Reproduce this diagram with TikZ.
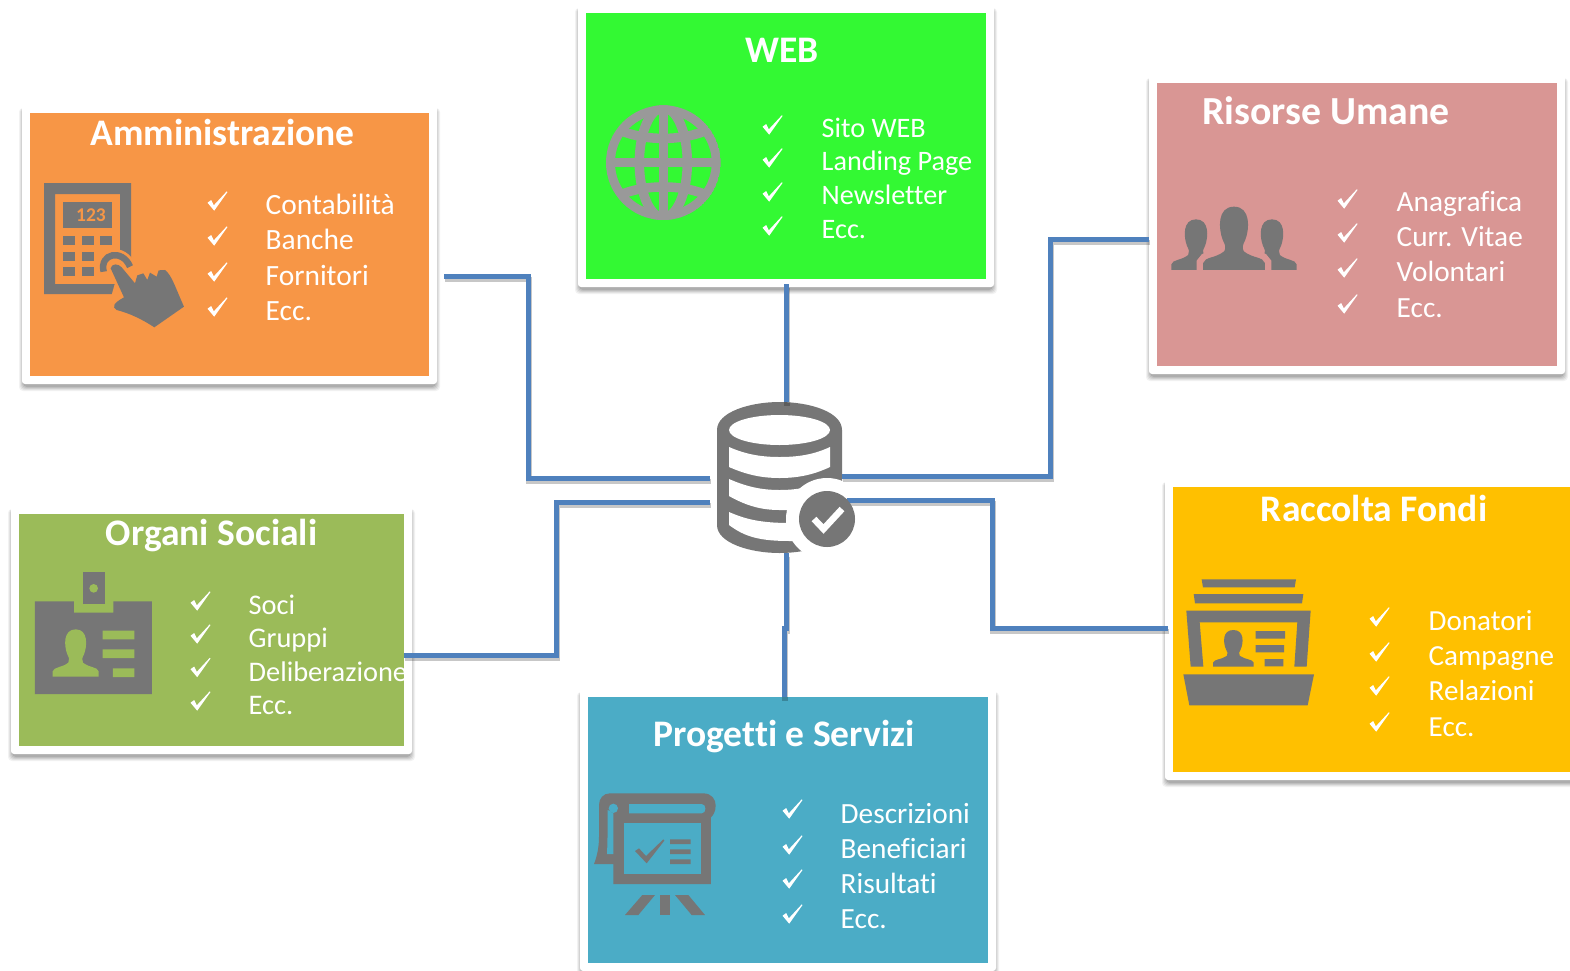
\documentclass[tikz,border=0pt]{standalone}
\usepackage{fontspec}
\setmainfont[Ligatures=NoCommon]{Carlito}
\definecolor{icongrey}{HTML}{767676}
\definecolor{globegrey}{HTML}{999999}
\definecolor{cOrange}{HTML}{F79646}
\definecolor{cGreen}{HTML}{33F933}
\definecolor{cPink}{HTML}{D99694}
\definecolor{cOlive}{HTML}{9BBB59}
\definecolor{cTeal}{HTML}{4BACC6}
\definecolor{cGold}{HTML}{FFC000}
\definecolor{cLine}{HTML}{4F81BD}
\def\tsz{37.5}
\def\isz{29.3}
\tikzset{
  cardback/.style={draw=none,fill=white,rounded corners=3pt,inner sep=0pt,outer sep=0pt},
  cardfill/.style={draw=none,inner sep=0pt,outer sep=0pt},
  cardtitle/.style={text=white,font=\fontsize{\tsz}{\tsz}\selectfont\bfseries,anchor=base,inner sep=0pt},
  carditem/.style={text=white,font=\fontsize{\isz}{\isz}\selectfont,anchor=base west,inner sep=0pt},
  linkline/.style={cLine,line width=5pt,line join=miter},
  linkshade/.style={black,opacity=.22,line width=5.5pt,transform canvas={xshift=1pt,yshift=-3.5pt}},
}
% \card{name}{x0}{y0}{x1}{y1}{colour}: coloured area; white frame 8 px round it
\newcommand{\card}[6]{%
  \pgfmathsetmacro{\cx}{(#2+#4)/2}\pgfmathsetmacro{\cy}{(#3+#5)/2}%
  \pgfmathsetmacro{\cw}{#4-#2}\pgfmathsetmacro{\ch}{#5-#3}%
  \foreach \k/\op in {0/.05,1/.06,2/.07,3/.08,4/.10}{%
    \fill[black,opacity=\op,rounded corners=4pt]
      (#2-8-3+\k,#3-8+3) rectangle (#4+8+3-\k,#5+8+7-\k);}%
  \node[cardback,minimum width=\cw pt+16pt,minimum height=\ch pt+16pt] (#1back) at (\cx,\cy) {};%
  \node[cardfill,fill=#6,minimum width=\cw pt,minimum height=\ch pt] (#1) at (\cx,\cy) {};%
}
\newcommand{\tick}[2]{%
  \fill[white,shift={(#1,#2)}] (-10,1.7) -- (-6.3,-1) -- (-3.7,4.3) -- (9.3,-9.7) -- (10,-9) -- (-3.3,9.7) -- cycle;}
% \row{name}{tick x}{tick y}{text x}{baseline}{text}
\newcommand{\row}[6]{\tick{#2}{#3}\node[carditem] (#1) at (#4,#5) {#6};}
% person silhouette: centre 0, top 0, bottom 142
\newcommand{\personpath}{(-69,142) -- (-69,126) .. controls (-65,112) and (-42,116) .. (-22,100) .. controls (-17,92) and (-20,85) .. (-25,75) .. controls (-35,50) and (-38,0) .. (0,0) .. controls (38,0) and (35,50) .. (25,75) .. controls (20,85) and (17,92) .. (22,100) .. controls (42,116) and (65,112) .. (69,126) -- (69,142) -- cycle}
\begin{document}
\begin{tikzpicture}[x=1pt,y=-1pt]
\useasboundingbox (0,0) rectangle (1570,970);
\clip (0,0) rectangle (1570,970);
\fill[white] (0,0) rectangle (1570,970);

% ---------- cards
\card{admin}{30}{113}{429}{376}{cOrange}
\card{web}{586}{13}{986}{279}{cGreen}
\card{risorse}{1157}{83}{1557}{366}{cPink}
\card{organi}{19}{514}{404}{746}{cOlive}
\card{progetti}{588}{697}{988}{963}{cTeal}
\card{raccolta}{1173}{487}{1590}{772}{cGold}

% ---------- Amministrazione
\node[cardtitle] (adminT) at (222.5,145) {Amministrazione};
\def\isz{29.4}
\row{a1}{217.5}{201}{265.5}{214.5}{Contabilità}
\row{a2}{217.5}{236}{265.5}{249.5}{Banche}
\row{a3}{217.5}{272}{265.5}{285.5}{Fornitori}
\row{a4}{217.5}{307}{265.5}{320.5}{Ecc.}
\fill[icongrey,even odd rule] (44,183) rectangle (131,294) (55,194) rectangle (120,284);
\fill[icongrey] (63,202) rectangle (112,228);
\node[text=cOrange,font=\fontsize{19.5}{19.5}\selectfont\bfseries,inner sep=0pt] (calc) at (91,215.5) {123};
\foreach \bx/\by in {63/236,82/236,100/236,63/252,82/252,63/267,82/267}
  \fill[icongrey] (\bx,\by) rectangle +(12,9);
\begin{scope}[shift={(0,90)},scale=.3333]
  \fill[cOrange] (335,615) -- (402,625) -- (402,525) -- (360,525) -- cycle;
  \draw[cOrange,line width=12pt] (311,545) .. controls (298,490) and (367,475) .. (390,530);
  \draw[icongrey,line width=6.5pt] (311,545) .. controls (298,490) and (367,475) .. (390,530);
  \path[fill=icongrey,draw=cOrange,line width=3pt,line join=round,preaction={draw=cOrange,line width=5pt}]
    (332,535) .. controls (335,520) and (355,520) .. (365,532) -- (405,580) -- (412,556) -- (430,550) -- (442,570) -- (450,548) -- (470,560) -- (476,541) -- (495,540) .. controls (515,555) and (525,590) .. (552,650) -- (463,712) .. controls (430,690) and (390,670) .. (350,660) .. controls (335,650) and (340,640) .. (372,622) -- cycle;
  \fill[icongrey] (332,535) .. controls (335,520) and (355,520) .. (365,532) -- (405,580) -- (412,556) -- (430,550) -- (442,570) -- (450,548) -- (470,560) -- (476,541) -- (495,540) .. controls (515,555) and (525,590) .. (552,650) -- (463,712) .. controls (430,690) and (390,670) .. (350,660) .. controls (335,650) and (340,640) .. (372,622) -- cycle;
\end{scope}

% ---------- WEB
\node[cardtitle] (webT) at (782,62) {WEB};
\def\isz{28.2}
\row{w1}{772.5}{125}{821.5}{137}{Sito WEB}
\row{w2}{772.5}{158}{821.5}{170}{Landing Page}
\row{w3}{772.5}{192}{821.5}{204}{Newsletter}
\row{w4}{772.5}{226}{821.5}{238}{Ecc.}
\begin{scope}[shift={(590,90)},scale=.3333]
  \begin{scope}
    \clip (220,218) circle (172);
    \fill[globegrey] (220,218) circle (172);
    \fill[cGreen] (220,218) circle (145);
    \draw[globegrey,line width=9.5pt] (220,40) -- (220,400);
    \draw[globegrey,line width=9.5pt] (40,218) -- (400,218);
    \draw[globegrey,line width=9.5pt] (220,218) ellipse (72 and 165);
    \draw[globegrey,line width=9.5pt] (100,125) .. controls (170,152) and (270,152) .. (340,125);
    \draw[globegrey,line width=9.5pt] (100,311) .. controls (170,284) and (270,284) .. (340,311);
  \end{scope}
\end{scope}

% ---------- Risorse Umane
\def\tsz{39.8}
\node[cardtitle] (risorseT) at (1326,124) {Risorse Umane};
\def\tsz{37.5}
\def\isz{29.3}
\row{r1}{1347.5}{199}{1396.5}{211}{Anagrafica}
\row{r2}{1347.5}{233}{1396.5}{246}{Curr. Vitae}
\row{r3}{1347.5}{268}{1396.5}{281}{Volontari}
\row{r4}{1347.5}{304}{1396.5}{317}{Ecc.}
\begin{scope}[shift={(1160,190)},scale=.3333]
  \begin{scope}[shift={(108,88)},scale=1.07]\fill[icongrey] \personpath;\end{scope}
  \begin{scope}[shift={(336,88)},scale=1.07]\fill[icongrey] \personpath;\end{scope}
  \begin{scope}[shift={(222,50)},scale=1.34]
    \path[fill=icongrey,draw=cPink,line width=13pt] \personpath;
    \fill[icongrey] \personpath;
  \end{scope}
  \fill[cPink] (0,240) rectangle (450,262);
\end{scope}

% ---------- Organi Sociali
\node[cardtitle] (organiT) at (211.5,545) {Organi Sociali};
\def\isz{28.4}
\row{o1}{200.5}{601}{248.5}{614}{Soci}
\row{o2}{200.5}{634}{248.5}{647}{Gruppi}
\row{o3}{200.5}{667.5}{248.5}{681}{Deliberazione}
\row{o4}{200.5}{701}{248.5}{714}{Ecc.}
\begin{scope}[shift={(20,560)},scale=.3333]
  \fill[icongrey] (45,124) -- (162,124) -- (162,158) -- (280,158) -- (280,124) -- (396,124) -- (396,402) -- (45,402) -- cycle;
  \fill[icongrey] (188,37) rectangle (255,132);
  \fill[cOlive] (221,85) circle (13);
  \fill[cOlive] (248,212) rectangle (343,238) (248,268) rectangle (343,294) (279,325) rectangle (343,351);
  \begin{scope}[shift={(167,208)}]\fill[cOlive] \personpath;\end{scope}
\end{scope}

% ---------- Progetti e Servizi
\node[cardtitle] (progettiT) at (784,746) {Progetti e Servizi};
\def\isz{29.3}
\row{p1}{792.5}{809}{840.5}{823}{Descrizioni}
\row{p2}{792.5}{845}{840.5}{858}{Beneficiari}
\row{p3}{792.5}{879}{840.5}{893}{Risultati}
\row{p4}{792.5}{914}{840.5}{928}{Ecc.}
\begin{scope}[shift={(585,780)},scale=.3333]
  \fill[icongrey] (75,40) -- (355,40) .. controls (380,40) and (392,58) .. (392,76) .. controls (392,95) and (385,105) .. (378,112) -- (378,312) -- (85,312) -- (85,252) -- (27,252) .. controls (38,225) and (42,195) .. (42,170) -- (42,75) .. controls (42,55) and (55,40) .. (75,40) -- cycle;
  \fill[cTeal] (132,72) -- (350,72) .. controls (365,72) and (365,100) .. (350,100) -- (132,100) -- cycle;
  \fill[cTeal] (66,222) .. controls (68,180) and (68,130) .. (68,90) -- (85,100) -- (85,222) -- cycle;
  \fill[cTeal] (85,85) circle (14);
  \fill[cTeal] (117,130) rectangle (347,282);
  \fill[icongrey] (150,213) -- (162,205) -- (183,228) -- (235,178) -- (238,182) -- (185,250) -- cycle;
  \fill[icongrey] (255,178) rectangle (317,192) (255,208) rectangle (317,222) (255,238) rectangle (317,252);
  \fill[icongrey] (120,405) -- (172,345) -- (210,345) -- (160,405) -- cycle;
  \fill[icongrey] (226,345) rectangle (255,405);
  \fill[icongrey] (270,345) -- (310,345) -- (360,405) -- (320,405) -- cycle;
\end{scope}

% ---------- Raccolta Fondi
\node[cardtitle] (raccoltaT) at (1374,521) {Raccolta Fondi};
\def\isz{29.1}
\row{f1}{1379.5}{617}{1428.5}{630}{Donatori}
\row{f2}{1379.5}{652}{1428.5}{665.5}{Campagne}
\row{f3}{1379.5}{686}{1428.5}{700}{Relazioni}
\row{f4}{1379.5}{722}{1428.5}{736}{Ecc.}
\begin{scope}[shift={(1160,560)},scale=.3333]
  \fill[icongrey] (125,58) -- (408,58) -- (404,82) -- (129,82) -- cycle;
  \fill[icongrey] (101,102) -- (430,102) -- (426,130) -- (105,130) -- cycle;
  \fill[icongrey] (79,152) -- (452,152) -- (440,320) -- (403,320) -- (412,187) -- (119,187) -- (130,320) -- (92,320) -- cycle;
  \fill[icongrey] (287,213) rectangle (375,236) (287,255) rectangle (372,277) (314,297) rectangle (370,319);
  \begin{scope}[shift={(220,210)},yscale=.775,xscale=.88]\fill[icongrey] \personpath;\end{scope}
  \fill[icongrey] (70,343) -- (462,343) -- (443,436) -- (88,436) -- cycle;
\end{scope}

% ---------- database icon
\coordinate (dbTop) at (786,402);
\coordinate (dbBottom) at (786,553);
\coordinate (dbW1) at (710,478);
\coordinate (dbW2) at (710,502);
\coordinate (dbE1) at (842,476);
\coordinate (dbE2) at (847,500);
\coordinate (adminPort) at (444,276);
\coordinate (webPort) at (786,284);
\coordinate (risorsePort) at (1149,239);
\coordinate (organiPort) at (404,655);
\coordinate (raccoltaPort) at (1168,628);
\coordinate (progettiPort) at (784,697);

\fill[icongrey] (717,430) .. controls (717,412) and (750,402) .. (779.5,402) .. controls (810,402) and (842,412) .. (842,430) -- (842,525) .. controls (842,543) and (810,553) .. (779.5,553) .. controls (750,553) and (717,543) .. (717,525) -- cycle;
\fill[white] (779.5,430) ellipse (50.5 and 15);
\fill[white] (729,447) .. controls (745,454) and (760,457) .. (779.5,457) .. controls (800,457) and (815,454) .. (830,447) -- (830,467) .. controls (815,474) and (800,478) .. (779.5,478) .. controls (760,478) and (745,474) .. (729,467) -- cycle;
\fill[white] (729,479) .. controls (745,486) and (760,490) .. (779.5,490) .. controls (800,490) and (815,486) .. (830,479) -- (830,510) -- (779.5,510) .. controls (760,510) and (745,505) .. (729,496) -- cycle;
\fill[white] (729,512) .. controls (745,519) and (760,523) .. (790,523) -- (830,523) -- (830,541) -- (790,541) .. controls (760,541) and (745,537) .. (729,525) -- cycle;
\fill[white] (827,519) circle (41);

% ---------- connectors
\foreach \st in {linkshade,linkline}{
  \draw[\st] (adminPort) -| (528,478) -- (dbW1);
  \draw[\st] (webPort) -- (dbTop);
  \draw[\st] (risorsePort) -- (1050,239) -- (1050,476) -- (dbE1);
  \draw[\st] (organiPort) -- (556,655) -- (556,502) -- (dbW2);
  \draw[\st] (raccoltaPort) -- (992,628) -- (992,500) -- (dbE2);
  \draw[\st] (dbBottom) -- (786,628) -- (784,628) -- (progettiPort);
}
\fill[icongrey] (827,519) circle (28);
\draw[white,line width=6.5pt] (814,519) -- (823.5,529) -- (842,509);
\end{tikzpicture}
\end{document}
